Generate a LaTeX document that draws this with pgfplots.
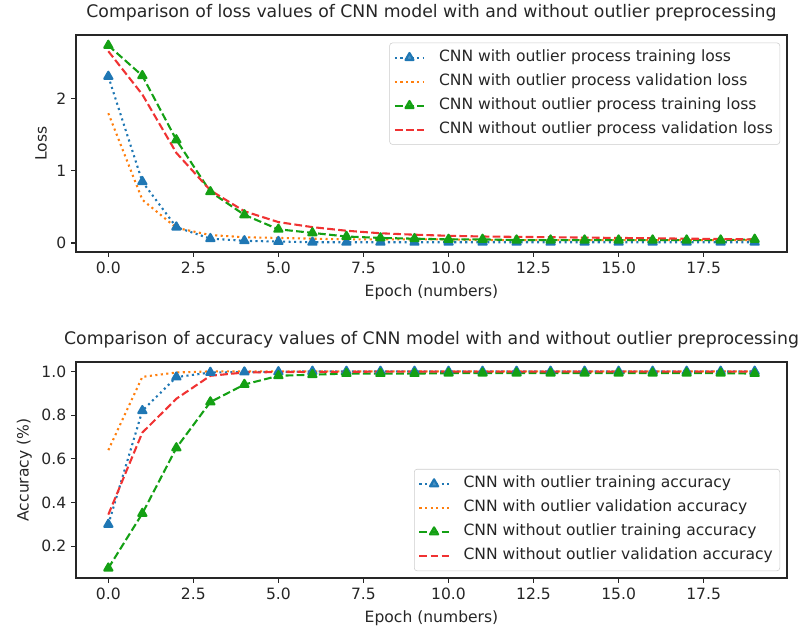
\documentclass[border=0pt]{standalone}
\usepackage{fontspec}
\setmainfont{DejaVu Sans}
\usepackage{pgfplots}
\pgfplotsset{compat=1.18}
\definecolor{mblue}{HTML}{1F77B4}
\definecolor{morange}{HTML}{FF7F0E}
\definecolor{mgreen}{HTML}{14A014}
\definecolor{mred}{HTML}{F03232}
\definecolor{axgray}{HTML}{262626}

\pgfplotstableread{
ep  a     b     c     d
0   2.31  1.80  2.74  2.66
1   0.85  0.60  2.32  2.06
2   0.22  0.21  1.43  1.25
3   0.06  0.11  0.71  0.73
4   0.03  0.08  0.39  0.44
5   0.02  0.07  0.19  0.29
6   0.01  0.06  0.14  0.22
7   0.01  0.05  0.09  0.17
8   0.01  0.05  0.07  0.135
9   0.01  0.05  0.06  0.115
10  0.01  0.05  0.05  0.10
11  0.01  0.04  0.05  0.09
12  0.01  0.04  0.04  0.085
13  0.01  0.04  0.04  0.08
14  0.01  0.04  0.04  0.075
15  0.01  0.04  0.04  0.07
16  0.01  0.04  0.04  0.065
17  0.01  0.04  0.04  0.06
18  0.01  0.04  0.04  0.055
19  0.01  0.04  0.05  0.05
}\losstable

\pgfplotstableread{
ep  a      b      c      d
0   0.30   0.64   0.10   0.345
1   0.82   0.975  0.35   0.72
2   0.974  0.995  0.65   0.875
3   0.995  1.0    0.86   0.98
4   0.997  1.0    0.94   0.995
5   0.998  1.0    0.98   0.997
6   1.0    1.0    0.985  0.998
7   1.0    1.0    0.99   0.998
8   1.0    1.0    0.99   0.999
9   1.0    1.0    0.99   0.999
10  1.0    1.0    0.992  0.999
11  1.0    1.0    0.992  0.999
12  1.0    1.0    0.992  0.999
13  1.0    1.0    0.992  0.999
14  1.0    1.0    0.992  0.999
15  1.0    1.0    0.992  0.999
16  1.0    1.0    0.992  0.999
17  1.0    1.0    0.992  0.999
18  1.0    1.0    0.992  0.999
19  1.0    1.0    0.99   0.999
}\acctable

\pgfplotsset{
  mystyle/.style={
    scale only axis,
    width=511.92pt,
    xmin=-0.95, xmax=19.95,
    axis line style={line width=0.8pt, axgray},
    tick align=outside,
    major tick length=3.5pt,
    tick style={line width=0.8pt, axgray},
    tick pos=left,
    xtick={0,2.5,5,7.5,10,12.5,15,17.5},
    xticklabel style={/pgf/number format/.cd, fixed, fixed zerofill, precision=1},
    /pgf/number format/assume math mode=true,
    tick label style={font=\fontsize{11.2}{13}\selectfont, text=axgray},
    label style={font=\fontsize{11.2}{13}\selectfont, text=axgray},
    xlabel style={yshift=-1pt},
    title style={font=\fontsize{12.45}{15}\selectfont, at={(0.5,1)}, anchor=base, yshift=6.5pt, text=axgray},
    xlabel={Epoch (numbers)},
    legend cell align=left,
    legend image code/.code={
      \draw[mark repeat=2, mark phase=2, ##1] plot coordinates {(0pt,0pt) (10.5pt,0pt) (21pt,0pt)};
    },
    legend style={
      draw=black!20, rounded corners=2pt, fill=white, fill opacity=0.8, text opacity=1,
      font=\fontsize{11.2}{13}\selectfont, text=axgray,
      row sep=2.1pt, inner xsep=3pt, inner ysep=3pt,
      nodes={inner sep=2pt, text height=8.4pt, text depth=2.8pt},
      /tikz/every odd column/.append style={column sep=8pt},
    },
  },
  pblue/.style={mblue, line width=1.5pt, line join=round, dash pattern=on 1.5pt off 2.475pt, mark=triangle*, mark size=3.4pt, mark options={solid}},
  porange/.style={morange, line width=1.5pt, line join=round, dash pattern=on 1.5pt off 2.475pt},
  pgreen/.style={mgreen, line width=1.5pt, line join=round, dash pattern=on 5.55pt off 2.4pt, mark=triangle*, mark size=3.4pt, mark options={solid}},
  pred/.style={mred, line width=1.5pt, line join=round, dash pattern=on 5.55pt off 2.4pt},
}

\begin{document}
\begin{tikzpicture}
\path[use as bounding box] (0,0) rectangle (578.16pt,453.6pt);

\begin{axis}[mystyle,
  at={(54.72pt,272.16pt)}, anchor=south west,
  height=156.24pt,
  ymin=-0.125, ymax=2.885,
  ytick={0,1,2},
  ylabel={Loss},
  title={Comparison of loss values of CNN model with and without outlier preprocessing},
  legend style={at={(1,1)}, anchor=north east, xshift=-5pt, yshift=-5.5pt},
]
\addplot[pblue] table[x=ep,y=a] {\losstable};
\addlegendentry{CNN with outlier process training loss}
\addplot[porange] table[x=ep,y=b] {\losstable};
\addlegendentry{CNN with outlier process validation loss}
\addplot[pgreen] table[x=ep,y=c] {\losstable};
\addlegendentry{CNN without outlier process training loss}
\addplot[pred] table[x=ep,y=d] {\losstable};
\addlegendentry{CNN without outlier process validation loss}
\end{axis}

\begin{axis}[mystyle,
  at={(54.72pt,37.44pt)}, anchor=south west,
  height=155.52pt,
  ymin=0.055, ymax=1.043,
  ytick={0.2,0.4,0.6,0.8,1.0},
  yticklabel style={/pgf/number format/.cd, fixed, fixed zerofill, precision=1},
  ylabel={Accuracy (\%)},
  title={Comparison of accuracy values of CNN model with and without outlier preprocessing},
  legend style={at={(1,0)}, anchor=south east, xshift=-5pt, yshift=5pt},
]
\addplot[pblue] table[x=ep,y=a] {\acctable};
\addlegendentry{CNN with outlier training accuracy}
\addplot[porange] table[x=ep,y=b] {\acctable};
\addlegendentry{CNN with outlier validation accuracy}
\addplot[pgreen] table[x=ep,y=c] {\acctable};
\addlegendentry{CNN without outlier training accuracy}
\addplot[pred] table[x=ep,y=d] {\acctable};
\addlegendentry{CNN without outlier validation accuracy}
\end{axis}
\end{tikzpicture}
\end{document}
